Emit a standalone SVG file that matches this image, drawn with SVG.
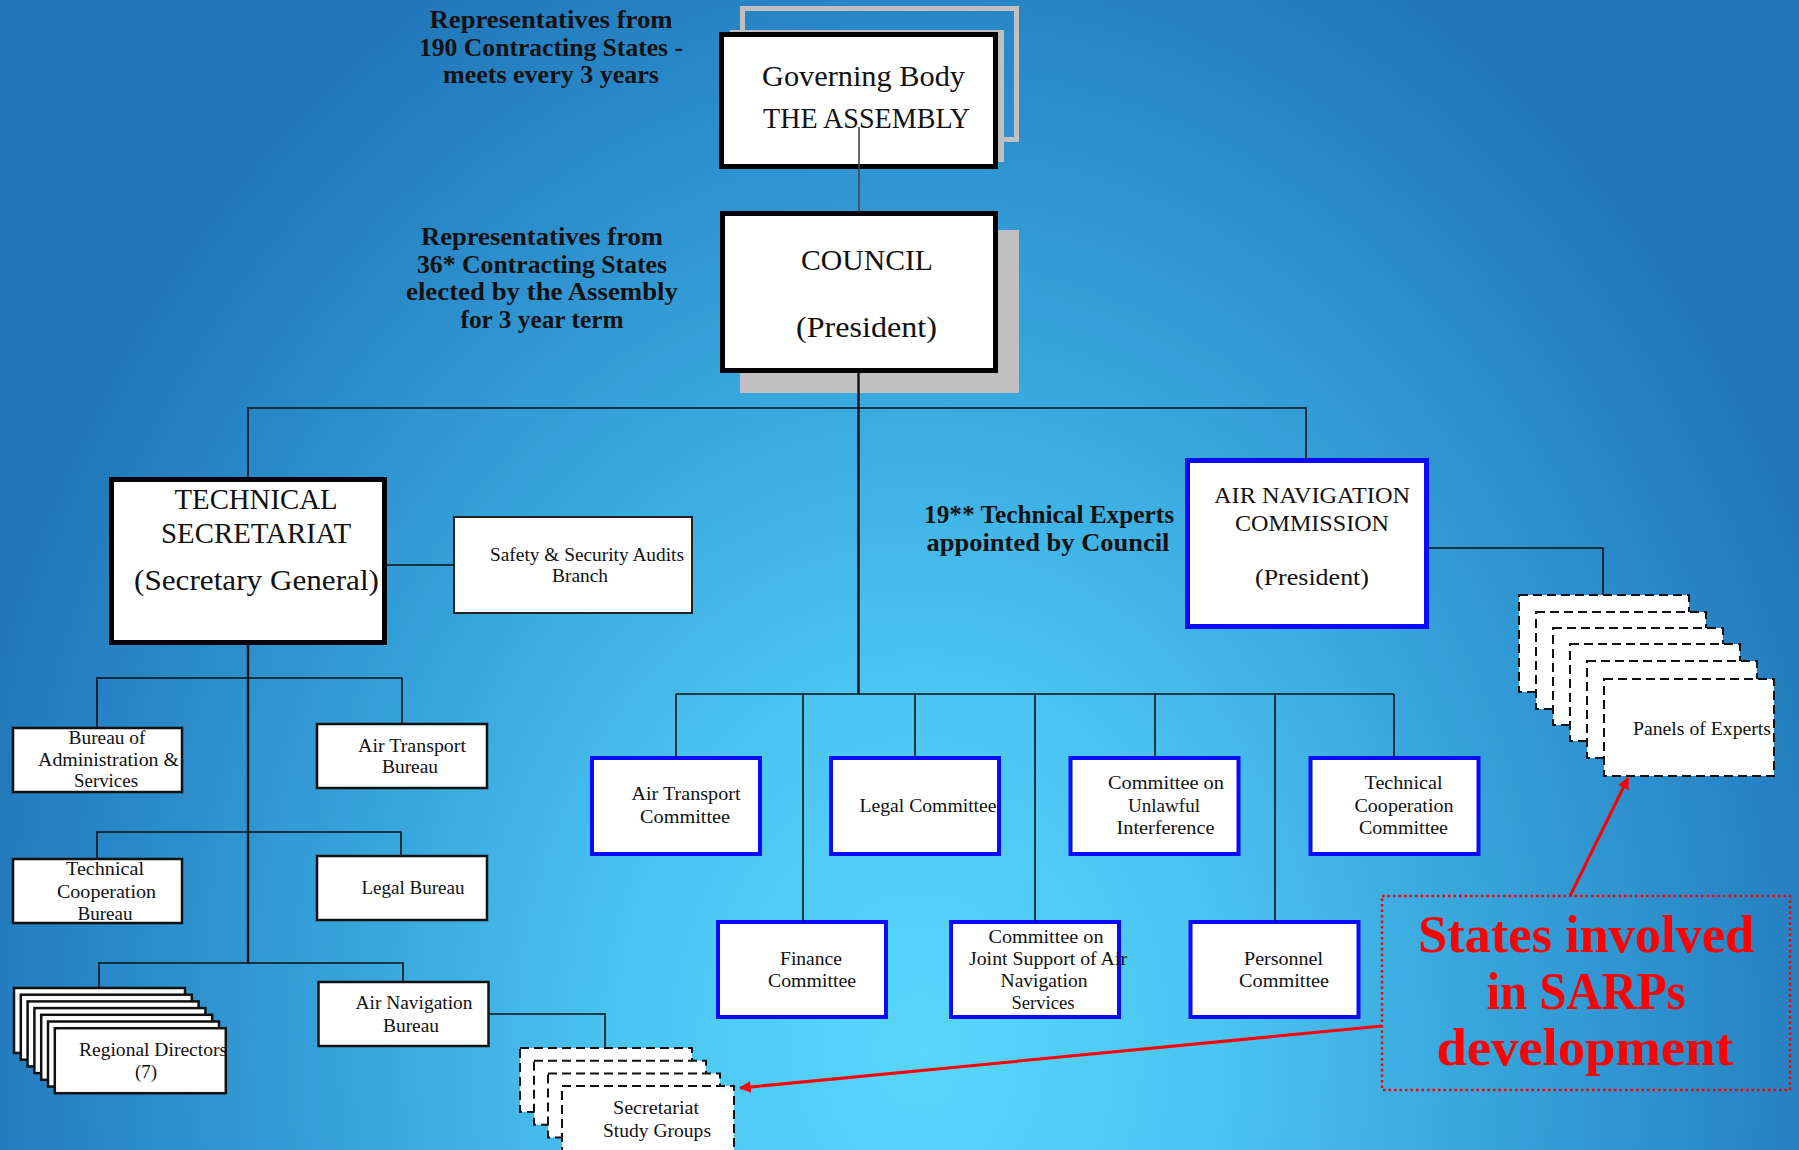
<svg xmlns="http://www.w3.org/2000/svg" width="1799" height="1150" viewBox="0 0 1799 1150">
  <defs>
    <radialGradient id="bg" gradientUnits="userSpaceOnUse" cx="920" cy="1050" r="980" gradientTransform="translate(920 1050) scale(1 1.25) translate(-920 -1050)">
      <stop offset="0" stop-color="#57d7fe"/>
      <stop offset="0.3" stop-color="#4bc5f2"/>
      <stop offset="0.6" stop-color="#36a2da"/>
      <stop offset="0.85" stop-color="#2886c6"/>
      <stop offset="1" stop-color="#2176b9"/>
    </radialGradient>
    <marker id="redHead" viewBox="0 0 10 10" refX="9" refY="5" markerWidth="4" markerHeight="4" orient="auto" markerUnits="strokeWidth">
      <path d="M0,0 L10,5 L0,10 z" fill="#ff0000"/>
    </marker>
    <style>
      .serif { font-family: "Liberation Serif", "Times New Roman", serif; fill: #111; }
      .big { font-size: 30px; }
      .mid { font-size: 24px; }
      .small { font-size: 19px; }
      .note { font-family: "Liberation Serif", "Times New Roman", serif; font-weight: bold; font-size: 25px; fill: #111; }
      .red { font-family: "Liberation Serif", "Times New Roman", serif; font-weight: bold; font-size: 52px; fill: #ff0000; }
      .heavy { fill: #fff; stroke: #000; stroke-width: 5; }
      .plain { fill: #fff; stroke: #111; stroke-width: 2.5; }
      .blue { fill: #fff; stroke: #0a0aff; stroke-width: 4; }
      .blueHeavy { fill: #fff; stroke: #0a0aff; stroke-width: 5; }
      .dashed { fill: #fff; stroke: #111; stroke-width: 2; stroke-dasharray: 9 5; }
      .shadow { fill: #c0c0c0; }
      .frame { fill: none; stroke: #c0c0c0; stroke-width: 5; }
      .link { fill: none; stroke: #111; stroke-width: 1.6; }
      .trunk { fill: none; stroke: #111; stroke-width: 2.4; }
      .redLine { fill: none; stroke: #ff0000; stroke-width: 3; }
    </style>
  </defs>

  <rect x="0" y="0" width="1799" height="1150" fill="url(#bg)"/>

  <!-- side notes -->
  <g id="note-assembly" text-anchor="middle" class="note">
    <text x="551" y="28" textLength="243" lengthAdjust="spacingAndGlyphs">Representatives from</text>
    <text x="551" y="56" textLength="264" lengthAdjust="spacingAndGlyphs">190 Contracting States -</text>
    <text x="551" y="83" textLength="216" lengthAdjust="spacingAndGlyphs">meets every 3 years</text>
  </g>
  <g id="note-council" text-anchor="middle" class="note">
    <text x="542" y="245" textLength="242" lengthAdjust="spacingAndGlyphs">Representatives from</text>
    <text x="542" y="273" textLength="250" lengthAdjust="spacingAndGlyphs">36* Contracting States</text>
    <text x="542" y="300" textLength="272" lengthAdjust="spacingAndGlyphs">elected by the Assembly</text>
    <text x="542" y="328" textLength="163" lengthAdjust="spacingAndGlyphs">for 3 year term</text>
  </g>
  <g id="note-anc" text-anchor="middle" class="note">
    <text x="1049" y="523" textLength="250" lengthAdjust="spacingAndGlyphs">19** Technical Experts</text>
    <text x="1048" y="551" textLength="243" lengthAdjust="spacingAndGlyphs">appointed by Council</text>
  </g>

  <!-- Assembly -->
  <g id="assembly">
    <rect class="frame" x="742.5" y="8.5" width="274" height="131"/>
    <rect class="shadow" x="730" y="30" width="274" height="132"/>
    <rect class="heavy" x="721.5" y="34.5" width="274" height="132"/>
    <g class="serif big" text-anchor="middle">
      <text x="863.5" y="86" textLength="203" lengthAdjust="spacingAndGlyphs">Governing Body</text>
      <text x="866.5" y="128" textLength="207" lengthAdjust="spacingAndGlyphs">THE ASSEMBLY</text>
    </g>
  </g>

  <!-- Council -->
  <g id="council">
    <rect class="shadow" x="740" y="230" width="279" height="163"/>
    <rect class="heavy" x="722.5" y="213.5" width="273" height="157"/>
    <g class="serif big" text-anchor="middle">
      <text x="867" y="270" textLength="132" lengthAdjust="spacingAndGlyphs">COUNCIL</text>
      <text x="866.5" y="337" textLength="141" lengthAdjust="spacingAndGlyphs">(President)</text>
    </g>
  </g>

  <!-- Technical Secretariat -->
  <g id="secretariat">
    <rect class="heavy" x="111.5" y="479.5" width="273" height="163"/>
    <g class="serif big" text-anchor="middle">
      <text x="256" y="509" textLength="163" lengthAdjust="spacingAndGlyphs">TECHNICAL</text>
      <text x="256" y="543" textLength="190" lengthAdjust="spacingAndGlyphs">SECRETARIAT</text>
      <text x="256.5" y="590" textLength="245" lengthAdjust="spacingAndGlyphs">(Secretary General)</text>
    </g>
  </g>

  <g id="audits">
    <rect x="454" y="517" width="238" height="96" fill="#fff" stroke="#222" stroke-width="2"/>
    <g class="serif small" text-anchor="middle">
      <text x="587" y="561" textLength="194" lengthAdjust="spacingAndGlyphs">Safety &amp; Security Audits</text>
      <text x="580" y="582" textLength="56" lengthAdjust="spacingAndGlyphs">Branch</text>
    </g>
  </g>

  <!-- Air Navigation Commission -->
  <g id="anc">
    <rect class="blueHeavy" x="1187.5" y="460.5" width="239" height="166"/>
    <g class="serif mid" text-anchor="middle">
      <text x="1312" y="503" textLength="196" lengthAdjust="spacingAndGlyphs">AIR NAVIGATION</text>
      <text x="1312" y="531" textLength="154" lengthAdjust="spacingAndGlyphs">COMMISSION</text>
      <text x="1312" y="585" textLength="114" lengthAdjust="spacingAndGlyphs">(President)</text>
    </g>
  </g>

  <!-- Secretariat bureaux -->
  <g id="bureau-admin">
    <rect class="plain" x="13" y="728" width="169" height="64"/>
    <g class="serif small" text-anchor="middle">
      <text x="107" y="744" textLength="77" lengthAdjust="spacingAndGlyphs">Bureau of</text>
      <text x="108.5" y="766" textLength="141" lengthAdjust="spacingAndGlyphs">Administration &amp;</text>
      <text x="106" y="787" textLength="64" lengthAdjust="spacingAndGlyphs">Services</text>
    </g>
  </g>
  <g id="bureau-air-transport">
    <rect class="plain" x="317" y="724" width="170" height="64"/>
    <g class="serif small" text-anchor="middle">
      <text x="412" y="752" textLength="108" lengthAdjust="spacingAndGlyphs">Air Transport</text>
      <text x="410" y="773" textLength="56" lengthAdjust="spacingAndGlyphs">Bureau</text>
    </g>
  </g>
  <g id="bureau-tech-coop">
    <rect class="plain" x="13" y="859" width="169" height="64"/>
    <g class="serif small" text-anchor="middle">
      <text x="105" y="875" textLength="78" lengthAdjust="spacingAndGlyphs">Technical</text>
      <text x="106.5" y="898" textLength="99" lengthAdjust="spacingAndGlyphs">Cooperation</text>
      <text x="105" y="920" textLength="55" lengthAdjust="spacingAndGlyphs">Bureau</text>
    </g>
  </g>
  <g id="bureau-legal">
    <rect class="plain" x="317" y="856" width="170" height="64"/>
    <text class="serif small" text-anchor="middle" x="413" y="894" textLength="103" lengthAdjust="spacingAndGlyphs">Legal Bureau</text>
  </g>
  <g id="regional-directors">
    <rect class="plain" x="14" y="988" width="171" height="65"/>
    <rect class="plain" x="20.8" y="994.7" width="171" height="65"/>
    <rect class="plain" x="27.6" y="1001.4" width="171" height="65"/>
    <rect class="plain" x="34.4" y="1008.1" width="171" height="65"/>
    <rect class="plain" x="41.2" y="1014.8" width="171" height="65"/>
    <rect class="plain" x="48" y="1021.5" width="171" height="65"/>
    <rect class="plain" x="54.8" y="1028.2" width="171" height="65"/>
    <g class="serif small" text-anchor="middle">
      <text x="153" y="1056" textLength="148" lengthAdjust="spacingAndGlyphs">Regional Directors</text>
      <text x="146" y="1078">(7)</text>
    </g>
  </g>
  <g id="bureau-air-navigation">
    <rect class="plain" x="318.5" y="982" width="170" height="64"/>
    <g class="serif small" text-anchor="middle">
      <text x="414" y="1009" textLength="117" lengthAdjust="spacingAndGlyphs">Air Navigation</text>
      <text x="411" y="1032" textLength="56" lengthAdjust="spacingAndGlyphs">Bureau</text>
    </g>
  </g>
  <g id="study-groups">
    <rect class="dashed" x="520" y="1048" width="172" height="64"/>
    <rect class="dashed" x="534" y="1060.7" width="172" height="64"/>
    <rect class="dashed" x="548" y="1073.4" width="172" height="64"/>
    <rect class="dashed" x="562" y="1086.1" width="172" height="66"/>
    <g class="serif small" text-anchor="middle">
      <text x="656" y="1114" textLength="86" lengthAdjust="spacingAndGlyphs">Secretariat</text>
      <text x="657" y="1137" textLength="108" lengthAdjust="spacingAndGlyphs">Study Groups</text>
    </g>
  </g>

  <!-- Council committees -->
  <g id="committee-air-transport">
    <rect class="blue" x="592" y="758" width="168" height="96"/>
    <g class="serif small" text-anchor="middle">
      <text x="686" y="800" textLength="109" lengthAdjust="spacingAndGlyphs">Air Transport</text>
      <text x="685" y="823" textLength="90" lengthAdjust="spacingAndGlyphs">Committee</text>
    </g>
  </g>
  <g id="committee-legal">
    <rect class="blue" x="831" y="758" width="168" height="96"/>
    <text class="serif small" text-anchor="middle" x="928" y="812" textLength="137" lengthAdjust="spacingAndGlyphs">Legal Committee</text>
  </g>
  <g id="committee-unlawful">
    <rect class="blue" x="1070.5" y="758" width="168" height="96"/>
    <g class="serif small" text-anchor="middle">
      <text x="1166" y="789" textLength="116" lengthAdjust="spacingAndGlyphs">Committee on</text>
      <text x="1164" y="812" textLength="72" lengthAdjust="spacingAndGlyphs">Unlawful</text>
      <text x="1165.5" y="834" textLength="98" lengthAdjust="spacingAndGlyphs">Interference</text>
    </g>
  </g>
  <g id="committee-tech-coop">
    <rect class="blue" x="1310.5" y="758" width="168" height="96"/>
    <g class="serif small" text-anchor="middle">
      <text x="1403.5" y="789" textLength="78" lengthAdjust="spacingAndGlyphs">Technical</text>
      <text x="1404" y="812" textLength="99" lengthAdjust="spacingAndGlyphs">Cooperation</text>
      <text x="1403.5" y="834" textLength="89" lengthAdjust="spacingAndGlyphs">Committee</text>
    </g>
  </g>
  <g id="committee-finance">
    <rect class="blue" x="718" y="922" width="168" height="95"/>
    <g class="serif small" text-anchor="middle">
      <text x="811" y="965" textLength="62" lengthAdjust="spacingAndGlyphs">Finance</text>
      <text x="812" y="987" textLength="88" lengthAdjust="spacingAndGlyphs">Committee</text>
    </g>
  </g>
  <g id="committee-joint-support">
    <rect class="blue" x="951" y="922" width="168" height="95"/>
    <g class="serif small" text-anchor="middle">
      <text x="1046" y="943" textLength="115" lengthAdjust="spacingAndGlyphs">Committee on</text>
      <text x="1048" y="965" textLength="158" lengthAdjust="spacingAndGlyphs">Joint Support of Air</text>
      <text x="1044" y="987" textLength="87" lengthAdjust="spacingAndGlyphs">Navigation</text>
      <text x="1043" y="1009" textLength="63" lengthAdjust="spacingAndGlyphs">Services</text>
    </g>
  </g>
  <g id="committee-personnel">
    <rect class="blue" x="1190.5" y="922" width="168" height="95"/>
    <g class="serif small" text-anchor="middle">
      <text x="1283.5" y="965" textLength="79" lengthAdjust="spacingAndGlyphs">Personnel</text>
      <text x="1284" y="987" textLength="90" lengthAdjust="spacingAndGlyphs">Committee</text>
    </g>
  </g>

  <!-- Panels of Experts -->
  <g id="panels">
    <rect class="dashed" x="1519" y="595" width="170" height="97"/>
    <rect class="dashed" x="1536" y="612" width="170" height="97"/>
    <rect class="dashed" x="1553" y="628" width="170" height="97"/>
    <rect class="dashed" x="1570" y="644" width="170" height="97"/>
    <rect class="dashed" x="1587" y="661" width="170" height="97"/>
    <rect class="dashed" x="1604" y="679" width="170" height="97"/>
    <text class="serif small" text-anchor="middle" x="1702" y="735" textLength="138" lengthAdjust="spacingAndGlyphs">Panels of Experts</text>
  </g>

  <!-- SARPs callout -->
  <g id="sarps-callout">
    <rect x="1382" y="896" width="408" height="194" fill="none" stroke="#ff0000" stroke-width="2.5" stroke-dasharray="2.5 3"/>
    <g class="red" text-anchor="middle">
      <text x="1586" y="952" textLength="336" lengthAdjust="spacingAndGlyphs">States involved</text>
      <text x="1586" y="1009" textLength="199" lengthAdjust="spacingAndGlyphs">in SARPs</text>
      <text x="1585" y="1065" textLength="297" lengthAdjust="spacingAndGlyphs">development</text>
    </g>
  </g>

  <!-- Connectors -->
  <g id="connectors">
    <line x1="859" y1="127" x2="859" y2="212" stroke="#444" stroke-width="1.6"/>
    <line class="trunk" x1="858.5" y1="373" x2="858.5" y2="694"/>
    <polyline class="link" points="248,477 248,408 1306,408 1306,459"/>
    <line class="trunk" x1="248" y1="645" x2="248" y2="963"/>
    <line class="link" x1="387" y1="565" x2="454" y2="565"/>

    <polyline class="link" points="97,728 97,678 402,678 402,724"/>
    <polyline class="link" points="97,859 97,832 401,832 401,856"/>
    <polyline class="link" points="99,988 99,963 403,963 403,982"/>
    <polyline class="link" points="489,1014 605,1014 605,1048"/>

    <line class="link" x1="676" y1="694" x2="1394" y2="694"/>
    <line class="link" x1="676" y1="694" x2="676" y2="757"/>
    <line class="link" x1="915" y1="694" x2="915" y2="757"/>
    <line class="link" x1="1155" y1="694" x2="1155" y2="757"/>
    <line class="link" x1="1394" y1="694" x2="1394" y2="757"/>
    <line class="link" x1="803" y1="694" x2="803" y2="921"/>
    <line class="link" x1="1035" y1="694" x2="1035" y2="921"/>
    <line class="link" x1="1275" y1="694" x2="1275" y2="921"/>

    <polyline class="link" points="1429,548 1603,548 1603,595"/>

    <line class="redLine" x1="1570" y1="896" x2="1628" y2="778" marker-end="url(#redHead)"/>
    <line class="redLine" x1="1382" y1="1026" x2="740" y2="1088" marker-end="url(#redHead)"/>
  </g>
</svg>
